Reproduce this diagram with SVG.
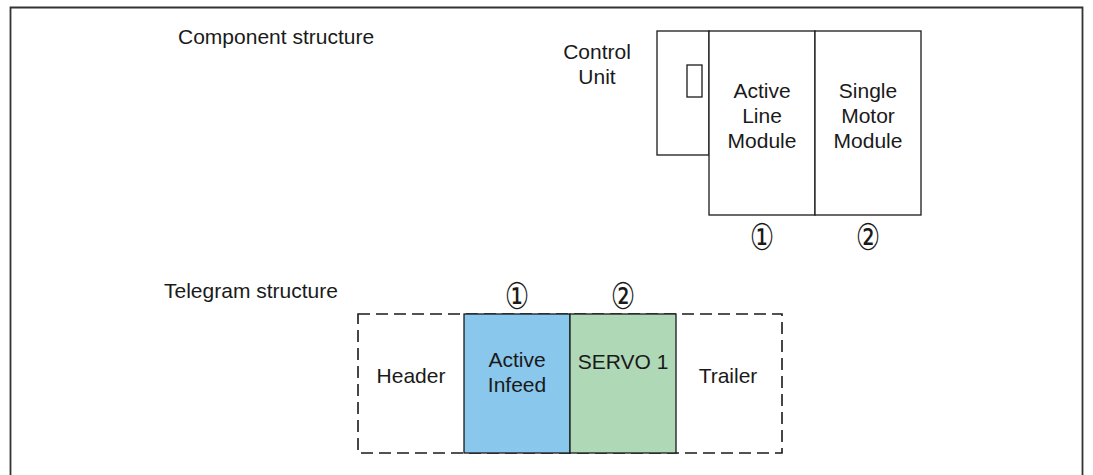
<svg xmlns="http://www.w3.org/2000/svg" width="1093" height="475" viewBox="0 0 1093 475">
<style>
  text { font-family: "Liberation Sans", Arial, sans-serif; font-size: 21px; fill: #1a1a1a; }
  .c { text-anchor: middle; }
  .num { font-family: "DejaVu Sans", "Noto Sans CJK JP", sans-serif; font-size: 37px; text-anchor: middle; }
  .box { fill: #ffffff; stroke: #1a1a1a; stroke-width: 1.3; }
  .dash { fill: none; stroke: #1a1a1a; stroke-width: 1.6; stroke-dasharray: 12 6; }
</style>
<rect x="0" y="0" width="1093" height="475" fill="#ffffff"/>
<path d="M10.5,476 V7.5 H1082.5 V476" fill="none" stroke="#333333" stroke-width="1.8"/>
<text x="178" y="44" font-size="21.8">Component structure</text>
<text x="164" y="298" font-size="22">Telegram structure</text>

<g id="control-unit">
  <rect class="box" x="657" y="31" width="52" height="124"/>
  <rect class="box" x="687" y="65" width="15" height="32"/>
  <text class="c" x="597" y="59">Control</text>
  <text class="c" x="597" y="84">Unit</text>
</g>
<g id="active-line-module">
  <rect class="box" x="709" y="31" width="106" height="184"/>
  <text class="c" x="762" y="98">Active</text>
  <text class="c" x="762" y="123">Line</text>
  <text class="c" x="762" y="148">Module</text>
  <text class="num" transform="translate(762,250) scale(0.74,1)">①</text>
</g>
<g id="single-motor-module">
  <rect class="box" x="815" y="31" width="106" height="184"/>
  <text class="c" x="868" y="98">Single</text>
  <text class="c" x="868" y="123">Motor</text>
  <text class="c" x="868" y="148">Module</text>
  <text class="num" transform="translate(868,250) scale(0.74,1)">②</text>
</g>

<g id="telegram-frame">
  <rect class="dash" x="358" y="314" width="424" height="139"/>
</g>
<g id="header">
  <text class="c" x="411" y="383">Header</text>
</g>
<g id="active-infeed">
  <rect x="464" y="314" width="106" height="139" fill="#89c7ec" stroke="#1a1a1a" stroke-width="1.3"/>
  <text class="c" x="517" y="367">Active</text>
  <text class="c" x="517" y="392">Infeed</text>
  <text class="num" transform="translate(517,308.5) scale(0.74,1)">①</text>
</g>
<g id="servo-1">
  <rect x="570" y="314" width="106" height="139" fill="#afd8b7" stroke="#1a1a1a" stroke-width="1.3"/>
  <text class="c" x="623" y="369">SERVO 1</text>
  <text class="num" transform="translate(623,308.5) scale(0.74,1)">②</text>
</g>
<g id="trailer">
  <text class="c" x="728" y="383">Trailer</text>
</g>
<g id="connectors"></g>
</svg>
